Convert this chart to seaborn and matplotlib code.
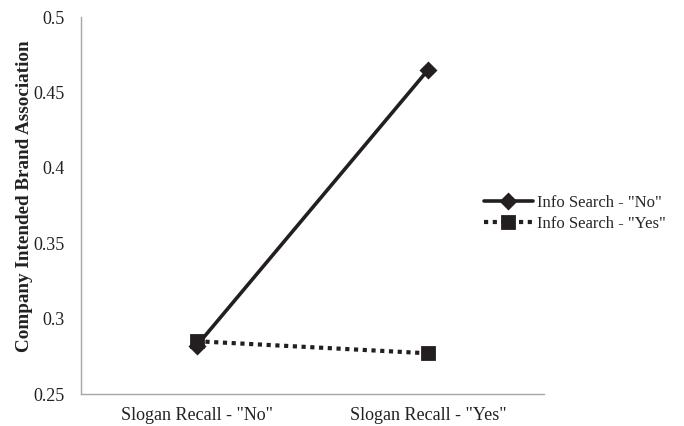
import matplotlib
matplotlib.use("Agg")
import matplotlib.pyplot as plt
import seaborn as sns
import pandas as pd

categories = ['Slogan Recall - "No"', 'Slogan Recall - "Yes"']
series_names = ['Info Search - "No"', 'Info Search - "Yes"']
values_no = [0.282, 0.465]
values_yes = [0.285, 0.277]
yticks = [0.25, 0.3, 0.35, 0.4, 0.45, 0.5]
ytick_labels = ["0.25", "0.3", "0.35", "0.4", "0.45", "0.5"]

df = pd.DataFrame({
    "cat": categories * 2,
    "series": [series_names[0]] * 2 + [series_names[1]] * 2,
    "val": values_no + values_yes,
})

sns.set_theme(style="white")
plt.rcParams['font.family'] = ['Liberation Serif', 'DejaVu Serif']

fig = plt.figure(figsize=(6.84, 4.26), dpi=100)
ax = fig.add_axes([0.1184, 0.0751, 0.795 - 0.1184, 0.960 - 0.0751])

dark = "#231f20"
sns.pointplot(data=df, x="cat", y="val", hue="series", order=categories,
              hue_order=series_names, palette=[dark, dark],
              markers=["D", "s"], linestyles=["-", ":"], dodge=False,
              errorbar=None, ax=ax, legend=False)

for l in ax.get_lines():
    if l.get_marker() == "D":
        l.set_markersize(7)
        l.set_linewidth(2.6)
    elif l.get_marker() == "s":
        l.set_markersize(8.5)
        l.set_linewidth(3)
        l.set_dashes([1, 1.1])

ax.set_xlim(-0.5, 1.5)
ax.set_ylim(0.25, 0.5)
ax.set_yticks(yticks)
ax.set_yticklabels(ytick_labels)
ax.tick_params(axis="both", length=0, labelsize=13, colors="#222222")
ax.tick_params(axis="y", pad=12)
ax.tick_params(axis="x", pad=9)
ax.set_xlabel("")
ax.set_ylabel("Company Intended Brand Association", fontsize=13.8,
              fontweight="bold", color="#222222")
ax.yaxis.set_label_coords(-0.104, 0.525)

for s in ["top", "right"]:
    ax.spines[s].set_visible(False)
for s in ["left", "bottom"]:
    ax.spines[s].set_color("#a6a6a6")
    ax.spines[s].set_linewidth(1)

handles = [l for l in ax.get_lines() if l.get_marker() in ("D", "s")][:2]
leg = fig.legend(handles, series_names, loc="center left",
                 bbox_to_anchor=(0.685, 0.5), frameon=False, fontsize=12,
                 numpoints=1, handlelength=2.95, handletextpad=0.25,
                 labelspacing=0.3)

fig.savefig("out.png", dpi=100)
